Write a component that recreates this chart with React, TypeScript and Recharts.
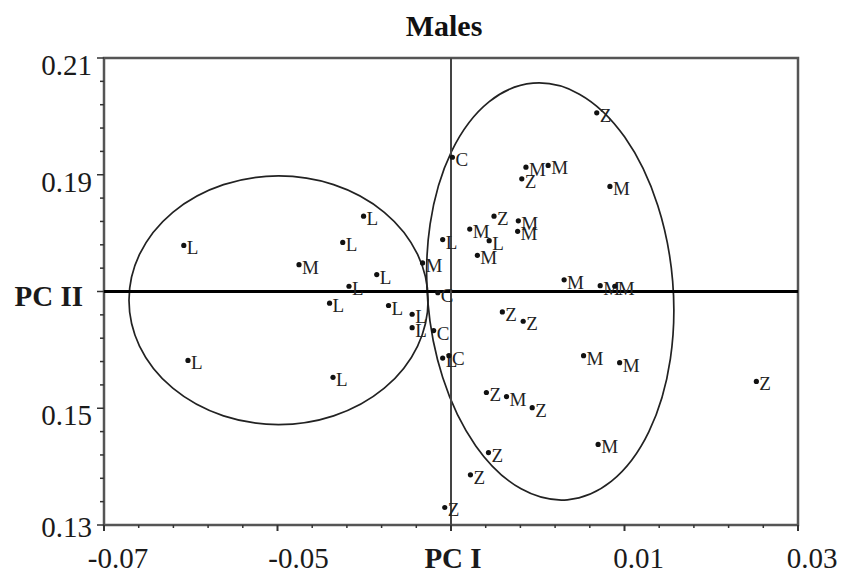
import React from "react";
import {
  ScatterChart,
  Scatter,
  XAxis,
  YAxis,
  ReferenceLine,
  ReferenceArea,
  Customized,
} from "recharts";

// Axis labels (the figure replaces the centre labels with the axis names)
const X_MAJOR = [-0.07, -0.045, -0.02, 0.005, 0.03];
const X_LABELS = ["-0.07", "-0.05", "PC I", "0.01", "0.03"];
const Y_MAJOR = [0.13, 0.15, 0.17, 0.19, 0.21];
const Y_LABELS = ["0.13", "0.15", "PC II", "0.19", "0.21"];

// Individuals, grouped by their letter code
const L_POINTS: [number, number][] = [
  [-0.0585, 0.1779],
  [-0.0326, 0.1829],
  [-0.0356, 0.1784],
  [-0.0307, 0.1729],
  [-0.0347, 0.1709],
  [-0.0375, 0.168],
  [-0.029, 0.1676],
  [-0.0256, 0.1661],
  [-0.0256, 0.1638],
  [-0.0579, 0.1582],
  [-0.037, 0.1553],
  [-0.0212, 0.1789],
  [-0.0145, 0.1787],
  [-0.0212, 0.1586],
];

const M_POINTS: [number, number][] = [
  [-0.0419, 0.1746],
  [-0.0241, 0.1749],
  [-0.0092, 0.1913],
  [-0.006, 0.1916],
  [0.0029, 0.188],
  [-0.0103, 0.1821],
  [-0.0104, 0.1803],
  [-0.0173, 0.1807],
  [-0.0162, 0.1762],
  [-0.0037, 0.172],
  [0.0015, 0.171],
  [0.0036, 0.1709],
  [-0.0009, 0.159],
  [0.0043, 0.1578],
  [-0.012, 0.152],
  [0.0012, 0.1438],
];

const C_POINTS: [number, number][] = [
  [-0.0198, 0.193],
  [-0.0219, 0.1698],
  [-0.0225, 0.1633],
  [-0.0203, 0.159],
];

const Z_POINTS: [number, number][] = [
  [0.001, 0.2006],
  [-0.0098, 0.1893],
  [-0.0138, 0.1829],
  [-0.0126, 0.1665],
  [-0.0096, 0.1649],
  [0.024, 0.1546],
  [-0.0149, 0.1527],
  [-0.0083, 0.1501],
  [-0.0146, 0.1424],
  [-0.0172, 0.1386],
  [-0.0209, 0.133],
];

// group ellipses: centre, half-widths (data units), tilt in degrees
const ELLIPSES = [
  { cx: -0.04485, cy: 0.1685, rx: 0.02155, ry: 0.0213, tilt: 0 },
  { cx: -0.0057, cy: 0.17, rx: 0.0177, ry: 0.0358, tilt: -4.7 },
];

const X_TICKS = Array.from({ length: 21 }, (_, i) => +(-0.07 + i * 0.005).toFixed(4));
const Y_TICKS = Array.from({ length: 21 }, (_, i) => +(0.13 + i * 0.004).toFixed(4));

const FONT = "'Liberation Serif', 'Times New Roman', serif";

const toRows = (pts: [number, number][]) => pts.map(([x, y]) => ({ x, y }));

function XTick({ x, y, payload }: any) {
  const idx = X_MAJOR.findIndex((m) => Math.abs(m - payload.value) < 1e-6);
  const major = idx >= 0;
  const label = major ? X_LABELS[idx] : "";
  const bold = label === "PC I";
  const dx = bold ? 2 : label === "-0.05" ? 21 : 14;
  return (
    <g>
      <line x1={x} x2={x} y1={y} y2={y + (major ? 6 : 3)} stroke="#333" strokeWidth={major ? 2 : 1.5} />
      {major && (
        <text
          x={x + dx}
          y={y + 43}
          textAnchor="middle"
          fontFamily={FONT}
          fontSize={29}
          fontWeight={bold ? "bold" : "normal"}
          fill="#1a1a1a"
        >
          {label}
        </text>
      )}
    </g>
  );
}

function YTick({ x, y, payload }: any) {
  const idx = Y_MAJOR.findIndex((m) => Math.abs(m - payload.value) < 1e-6);
  const major = idx >= 0;
  const label = major ? Y_LABELS[idx] : "";
  const bold = label === "PC II";
  const dy = bold ? 14 : idx === 0 ? 12 : 17;
  return (
    <g>
      <line x1={x - (major ? 7 : 4)} x2={x} y1={y} y2={y} stroke="#333" strokeWidth={1.5} />
      {major && (
        <text
          x={x - (bold ? 21 : 12)}
          y={y + dy}
          textAnchor="end"
          fontFamily={FONT}
          fontSize={29}
          fontWeight={bold ? "bold" : "normal"}
          fill="#1a1a1a"
        >
          {label}
        </text>
      )}
    </g>
  );
}

const labelledDot = (letter: string) => (props: any) => {
  const { cx, cy } = props;
  return (
    <g>
      <circle cx={cx} cy={cy} r={2.6} fill="#111" />
      <text x={cx + 3} y={cy + 9} fontFamily={FONT} fontSize={19} fill="#222">
        {letter}
      </text>
    </g>
  );
};

const ellipseShape = (tilt: number) => (props: any) => {
  const { x, y, width, height } = props;
  const cx = x + width / 2;
  const cy = y + height / 2;
  return (
    <ellipse
      cx={cx}
      cy={cy}
      rx={Math.abs(width) / 2}
      ry={Math.abs(height) / 2}
      transform={`rotate(${tilt} ${cx} ${cy})`}
      fill="none"
      stroke="#222"
      strokeWidth={1.7}
    />
  );
};

const Title = () => (
  <text x={444} y={36} textAnchor="middle" fontFamily={FONT} fontSize={30} fontWeight="bold" fill="#111">
    Males
  </text>
);

export default function App() {
  return (
    <div style={{ position: "absolute", left: 0, top: 0, background: "#fff" }}>
      <ScatterChart width={847} height={577} margin={{ top: 58, right: 49, bottom: 22, left: 44 }}>
        <XAxis
          type="number"
          dataKey="x"
          domain={[-0.07, 0.03]}
          ticks={X_TICKS}
          interval={0}
          tickSize={0}
          tickMargin={0}
          tickLine={false}
          axisLine={false}
          tick={<XTick />}
          height={30}
          allowDataOverflow
        />
        <YAxis
          type="number"
          dataKey="y"
          domain={[0.13, 0.21]}
          ticks={Y_TICKS}
          interval={0}
          tickSize={0}
          tickMargin={0}
          tickLine={false}
          axisLine={false}
          tick={<YTick />}
          width={60}
          allowDataOverflow
        />
        <ReferenceArea
          x1={-0.07}
          x2={0.03}
          y1={0.13}
          y2={0.21}
          fill="none"
          fillOpacity={0}
          stroke="#555"
          strokeWidth={2.5}
        />
        {ELLIPSES.map((e, i) => (
          <ReferenceArea
            key={`ell-${i}`}
            x1={e.cx - e.rx}
            x2={e.cx + e.rx}
            y1={e.cy - e.ry}
            y2={e.cy + e.ry}
            shape={ellipseShape(e.tilt)}
          />
        ))}
        <ReferenceLine y={0.17} stroke="#000" strokeWidth={3} />
        <ReferenceLine x={-0.02} stroke="#444" strokeWidth={2} />
        <Scatter data={toRows(L_POINTS)} shape={labelledDot("L")} isAnimationActive={false} />
        <Scatter data={toRows(M_POINTS)} shape={labelledDot("M")} isAnimationActive={false} />
        <Scatter data={toRows(C_POINTS)} shape={labelledDot("C")} isAnimationActive={false} />
        <Scatter data={toRows(Z_POINTS)} shape={labelledDot("Z")} isAnimationActive={false} />
        <Customized component={Title} />
      </ScatterChart>
    </div>
  );
}
